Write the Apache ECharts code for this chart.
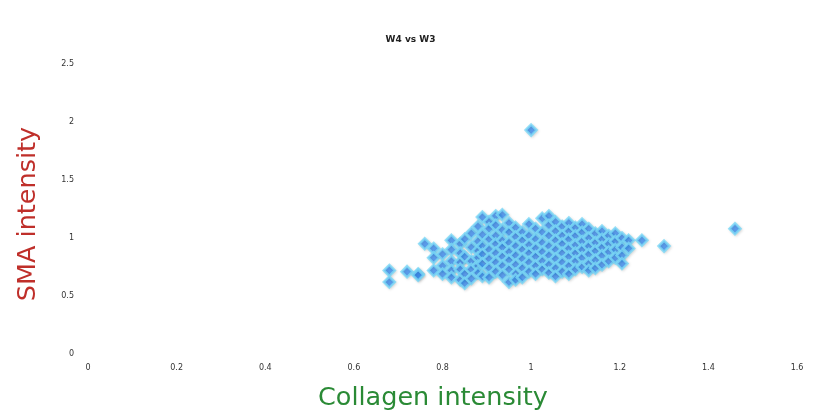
<!DOCTYPE html>
<html>
<head>
<meta charset="utf-8">
<script src="https://cdn.jsdelivr.net/npm/echarts@6/dist/echarts.min.js"></script>
<style>html,body{margin:0;padding:0;background:#fff}#c{width:821px;height:419px}</style>
</head>
<body>
<div id="c"></div>
<script>
var titleText = 'W4 vs W3';
var xName = 'Collagen intensity';
var yName = 'SMA intensity';
var xTicks = [0, 0.2, 0.4, 0.6, 0.8, 1, 1.2, 1.4, 1.6];
var yTicks = [0, 0.5, 1, 1.5, 2, 2.5];
// columns of points: [x, [y values]]
var pointColumns = [
  [0.68, [0.72, 0.62]],
  [0.72, [0.71]],
  [0.745, [0.69, 0.68]],
  [0.76, [0.95]],
  [0.78, [0.91, 0.83, 0.72]],
  [0.80, [0.86, 0.76, 0.69]],
  [0.82, [0.98, 0.90, 0.80, 0.72, 0.66]],
  [0.84, [0.95, 0.87, 0.79, 0.73, 0.64]],
  [0.85, [0.99, 0.84, 0.69, 0.61]],
  [0.865, [1.04, 0.92, 0.80, 0.73, 0.65]],
  [0.88, [1.10, 0.97, 0.89, 0.83, 0.76, 0.70]],
  [0.89, [1.18, 1.03, 0.93, 0.86, 0.78, 0.67]],
  [0.905, [1.14, 1.08, 0.99, 0.90, 0.82, 0.74, 0.66]],
  [0.92, [1.19, 1.11, 1.02, 0.95, 0.87, 0.79, 0.71]],
  [0.935, [1.20, 1.07, 0.98, 0.92, 0.84, 0.76, 0.68]],
  [0.95, [1.13, 1.05, 0.96, 0.88, 0.81, 0.73, 0.62]],
  [0.965, [1.09, 1.01, 0.93, 0.85, 0.77, 0.69, 0.64]],
  [0.98, [1.05, 0.98, 0.90, 0.82, 0.74, 0.66]],
  [0.995, [1.12, 1.02, 0.94, 0.87, 0.79, 0.71]],
  [1.00, [1.93]],
  [1.01, [1.08, 0.99, 0.91, 0.84, 0.76, 0.69]],
  [1.025, [1.17, 1.05, 0.96, 0.88, 0.80, 0.73]],
  [1.04, [1.19, 1.11, 1.02, 0.93, 0.85, 0.77, 0.70]],
  [1.055, [1.14, 1.06, 0.98, 0.90, 0.82, 0.74, 0.67]],
  [1.07, [1.10, 1.02, 0.95, 0.87, 0.79, 0.71]],
  [1.085, [1.13, 1.06, 0.99, 0.91, 0.84, 0.76, 0.69]],
  [1.10, [1.09, 1.02, 0.94, 0.87, 0.80, 0.73]],
  [1.115, [1.12, 1.05, 0.97, 0.90, 0.83, 0.75]],
  [1.13, [1.08, 1.00, 0.93, 0.86, 0.78, 0.72]],
  [1.145, [1.04, 0.96, 0.89, 0.81, 0.74]],
  [1.16, [1.06, 0.99, 0.92, 0.85, 0.77]],
  [1.175, [1.02, 0.95, 0.88, 0.80]],
  [1.19, [1.04, 0.97, 0.90, 0.83]],
  [1.205, [1.00, 0.92, 0.85, 0.78]],
  [1.22, [0.98, 0.91]],
  [1.25, [0.98]],
  [1.30, [0.93]],
  [1.46, [1.08]]
];
var data = [];
pointColumns.forEach(function (c) { c[1].forEach(function (y) { data.push([c[0], y]); }); });

var chart = echarts.init(document.getElementById('c'));
chart.setOption({
  animation: false,
  backgroundColor: '#fff',
  title: {
    text: titleText, left: 'center', top: 30,
    textStyle: { fontFamily: 'DejaVu Sans', fontSize: 9, fontWeight: 'bold', color: '#222' }
  },
  graphic: [
    { type: 'text', left: 318, top: 385,
      style: { text: xName, font: '25.5px "DejaVu Sans"', fill: '#2a8a35' } },
    { type: 'text', x: 28, y: 214, rotation: Math.PI / 2,
      style: { text: yName, font: '25.5px "DejaVu Sans"', fill: '#bf2f2a', align: 'center', verticalAlign: 'middle' } }
  ],
  grid: { left: 88, right: 24, top: 64, bottom: 65 },
  xAxis: {
    type: 'value', min: 0, max: 1.6, interval: 0.2,
    axisLine: { show: false }, axisTick: { show: false }, splitLine: { show: false },
    axisLabel: { margin: 10, fontSize: 8, color: '#333', fontFamily: 'DejaVu Sans',
      formatter: function (v) { return xTicks.indexOf(+v.toFixed(1)) >= 0 ? String(+v.toFixed(1)) : ''; } }
  },
  yAxis: {
    type: 'value', min: 0, max: 2.5, interval: 0.5,
    axisLine: { show: false }, axisTick: { show: false }, splitLine: { show: false },
    axisLabel: { margin: 14, fontSize: 8, color: '#333', fontFamily: 'DejaVu Sans',
      formatter: function (v) { return yTicks.indexOf(+v.toFixed(1)) >= 0 ? String(+v.toFixed(1)) : ''; } }
  },
  series: [{
    type: 'scatter', data: data, symbol: 'diamond', symbolSize: 11,
    itemStyle: {
      color: '#3a8cf0', borderColor: '#7ad8f8', borderWidth: 2.5,
      shadowBlur: 3, shadowColor: 'rgba(0,0,0,0.15)', shadowOffsetY: 1, shadowOffsetX: 1
    }
  }]
});
</script>
</body>
</html>
